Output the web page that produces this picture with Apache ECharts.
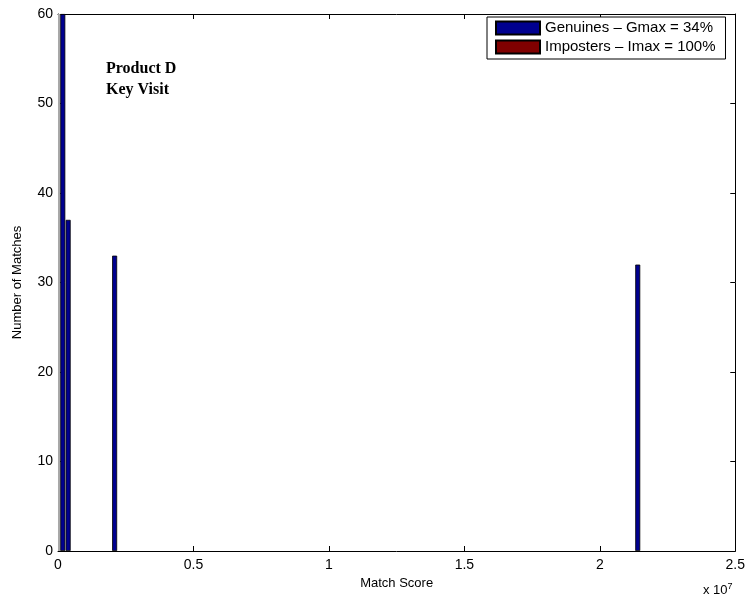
<!DOCTYPE html>
<html><head><meta charset="utf-8">
<script src="https://cdn.jsdelivr.net/npm/echarts@6/dist/echarts.min.js"></script>
<style>html,body{margin:0;padding:0;background:#fff}#c{width:748px;height:601px}</style>
</head><body><div id="c"></div>
<script>
// Match scores (raw) and counts
var genuineScores = [177000, 375000, 2090000, 21400000];
var genuineCounts = [60, 37, 33, 32];
var imposterScores = [];
var imposterCounts = [];
var edgeScores = [44000];
var edgeCounts = [60];
var xTicks = [0, 0.5, 1, 1.5, 2, 2.5];
var yTicks = [0, 10, 20, 30, 40, 50, 60];
var legendNames = ['Genuines \u2013 Gmax = 34%', 'Imposters \u2013 Imax = 100%'];

function pairs(xs, ys){ return xs.map(function(x,i){return [x, ys[i]];}); }
var FONT = 'Liberation Sans, Arial, sans-serif';
var chart = echarts.init(document.getElementById('c'));
var axisCommon = {
  axisLine:{show:true, onZero:false, lineStyle:{color:'#000', width:1}},
  axisTick:{show:true, inside:true, length:5, lineStyle:{color:'#000'}},
  splitLine:{show:false}
};
chart.setOption({
  animation:false,
  backgroundColor:'#fff',
  grid:{left:58, right:11, top:14, bottom:50, containLabel:false},
  legend:{
    orient:'vertical', left:487, top:17,
    data:legendNames.map(function(n){return {name:n, icon:'rect'};}),
    itemWidth:44, itemHeight:13, itemGap:3,
    padding:[3,10,4,8],
    borderColor:'#000', borderWidth:1, backgroundColor:'#fff',
    textStyle:{fontFamily:FONT, fontSize:15, lineHeight:16, color:'#000'},
    selectedMode:false
  },
  xAxis:[
    Object.assign({type:'value', min:0, max:xTicks[xTicks.length-1]*1e7, interval:0.5e7, position:'bottom',
      name:'Match Score', nameLocation:'middle', nameGap:19,
      nameTextStyle:{fontFamily:FONT, fontSize:13, color:'#000'},
      axisLabel:{fontFamily:FONT, fontSize:14, color:'#000', margin:7,
        formatter:function(v){return String(+(v/1e7).toFixed(1));}}
    }, axisCommon),
    Object.assign({type:'value', min:0, max:2.5e7, interval:0.5e7, position:'top', axisLabel:{show:false}}, axisCommon)
  ],
  yAxis:[
    Object.assign({type:'value', min:0, max:yTicks[yTicks.length-1], interval:10, position:'left',
      name:'Number of Matches', nameLocation:'middle', nameGap:34, nameRotate:90,
      nameTextStyle:{fontFamily:FONT, fontSize:13, color:'#000'},
      axisLabel:{fontFamily:FONT, fontSize:14, color:'#000', margin:5}
    }, axisCommon),
    Object.assign({type:'value', min:0, max:60, interval:10, position:'right', axisLabel:{show:false}}, axisCommon)
  ],
  series:[
    {
      type:'custom', silent:true, z:1,
      data: pairs(edgeScores, edgeCounts),
      renderItem:function(params, api){
        var p0 = api.coord([api.value(0), 0]);
        var p1 = api.coord([api.value(0), api.value(1)]);
        return {type:'rect', shape:{x:p0[0]-1.2, y:p1[1], width:2.4, height:p0[1]-p1[1]},
          style:{fill:'#a8a8a8'}};
      }
    },
    {
      name:legendNames[0], type:'bar', barWidth:5, barGap:'-100%', z:2,
      data: pairs(genuineScores, genuineCounts),
      itemStyle:{color:'#00008f', borderColor:'#000', borderWidth:0.8}
    },
    {
      name:legendNames[1], type:'bar', barWidth:5, barGap:'-100%', z:2,
      data: pairs(imposterScores, imposterCounts),
      itemStyle:{color:'#800000', borderColor:'#000', borderWidth:0.8}
    }
  ],
  graphic:[
    {type:'text', left:106, top:58, style:{text:'Product D\nKey Visit', font:'bold 16px "Liberation Serif", "Times New Roman", serif', fill:'#000', lineHeight:21}},
    {type:'text', left:703, top:582, style:{text:'x 10{s|7}', font:'13px '+FONT, fill:'#000',
      rich:{s:{fontSize:9, fontFamily:FONT, verticalAlign:'top', padding:[0,0,8,0]}}}}
  ]
});
</script></body></html>
